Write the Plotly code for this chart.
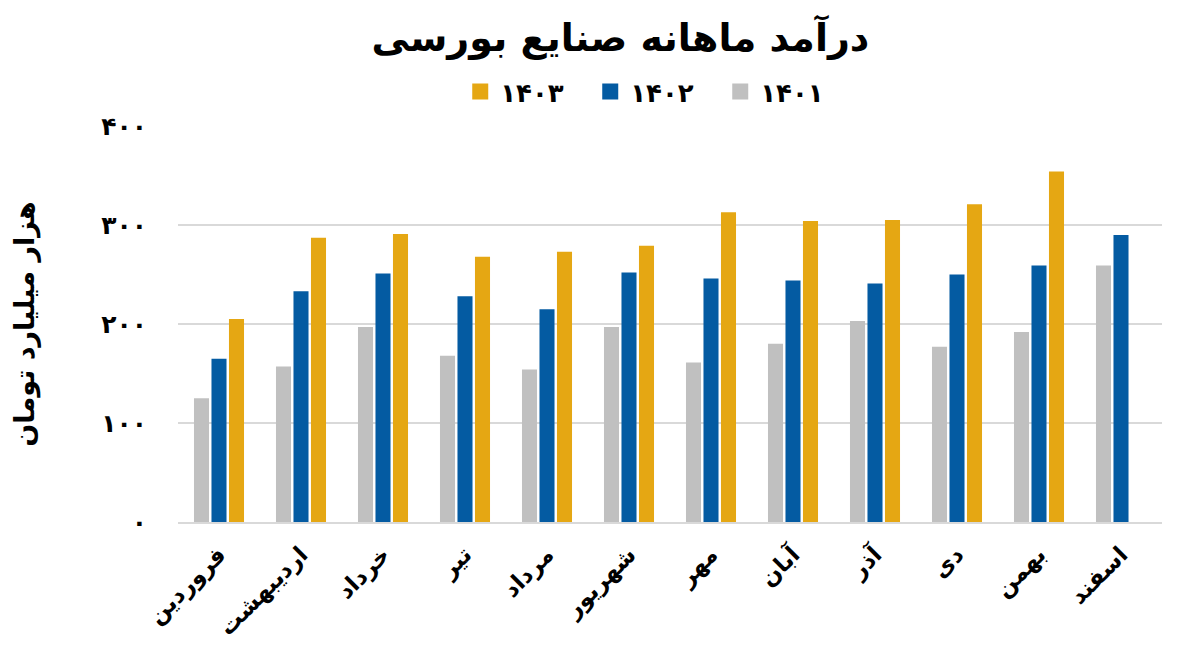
import plotly.graph_objects as go

months = ["فروردین", "اردیبهشت", "خرداد", "تیر", "مرداد", "شهریور",
          "مهر", "آبان", "آذر", "دی", "بهمن", "اسفند"]
v1401 = [125, 157, 197, 168, 154, 197, 161, 180, 203, 177, 192, 259]
v1402 = [165, 233, 251, 228, 215, 252, 246, 244, 241, 250, 259, 290]
v1403 = [205, 287, 291, 268, 273, 279, 313, 304, 305, 321, 354, None]
series_names = ["۱۴۰۱", "۱۴۰۲", "۱۴۰۳"]
colors = ["#C0C0C0", "#045BA2", "#E5A713"]
y_ticks = [0, 100, 200, 300, 400]
y_tick_text = ["۰", "۱۰۰", "۲۰۰", "۳۰۰", "۴۰۰"]

font_family = "DejaVu Sans, Noto Sans, sans-serif"

fig = go.Figure()
for name, vals, col in zip(series_names, [v1401, v1402, v1403], colors):
    fig.add_trace(go.Bar(x=months, y=vals, name=name, marker_color=col,
                         marker_line_width=0, showlegend=False))
# legend entries with larger square swatches
for name, col in zip(series_names, colors):
    fig.add_trace(go.Scatter(x=[None], y=[None], mode="markers", name="<b>" + name + "</b>",
                             marker=dict(symbol="square", size=21, color=col)))

fig.update_layout(
    width=1200, height=657,
    paper_bgcolor="white", plot_bgcolor="white",
    margin=dict(l=178, r=38, t=126, b=135),
    barmode="group", bargap=0.36, bargroupgap=0.14,
    font=dict(family=font_family, color="black"),
    title=dict(text="<b>درآمد ماهانه صنایع بورسی</b>", x=0.517, xanchor="center",
               y=0.942, yanchor="middle", font=dict(size=38, color="black")),
    legend=dict(orientation="h", x=0.485, xanchor="center", y=1.087, yanchor="middle",
                traceorder="reversed", font=dict(size=26, color="black"),
                itemsizing="trace", itemwidth=30,
                entrywidth=85, entrywidthmode="pixels"),
    showlegend=True,
)
fig.update_xaxes(tickangle=-45, tickfont=dict(size=23, color="black"),
                 tickvals=months, ticktext=["<b>" + m + "</b>" for m in months],
                 showgrid=False, showline=True, linecolor="#D9D9D9", linewidth=2,
                 ticks="", ticklabelstandoff=8)
fig.update_yaxes(range=[0, 400], tickvals=y_ticks,
                 ticktext=["<b>" + t + "</b>" for t in y_tick_text],
                 tickfont=dict(size=25, color="black"),
                 showgrid=True, gridcolor="#D9D9D9", gridwidth=2,
                 zeroline=False, ticks="", ticklabelstandoff=30,
                 title=dict(text="<b>هزار میلیارد تومان</b>", font=dict(size=27, color="black"),
                            standoff=58))

fig.write_html("out.html")
